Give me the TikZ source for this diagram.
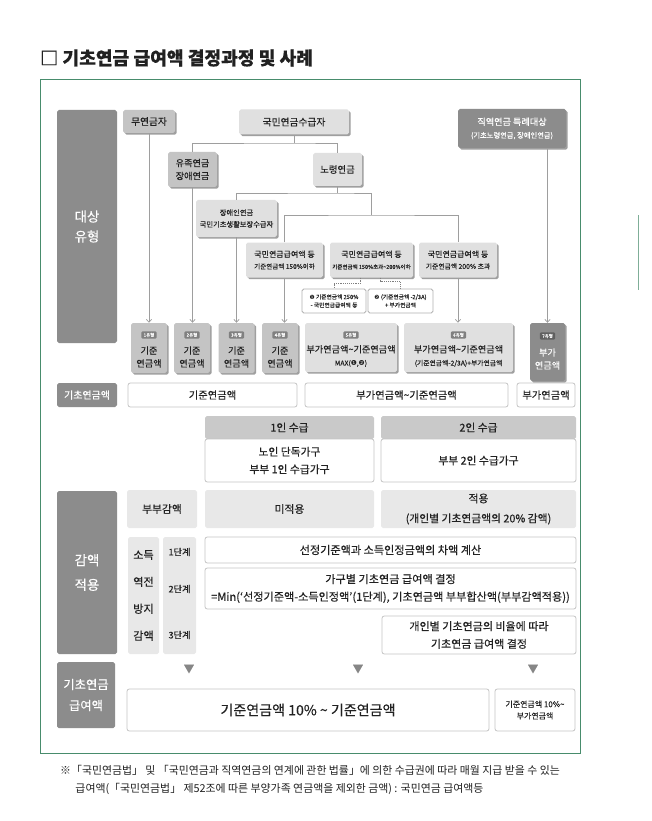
\documentclass[tikz,border=0pt]{standalone}
\usepackage{fontspec}
\setmainfont{Noto Sans CJK KR}[FakeBold=0.3]
\newfontfamily\plainfont{Noto Sans CJK KR}
\newfontfamily\dingfont{DejaVu Sans}
\usetikzlibrary{arrows.meta,calc,shadows}

\definecolor{darkbox}{gray}{0.55}
\definecolor{midbox}{gray}{0.77}
\definecolor{lightbox}{gray}{0.88}
\definecolor{cellbox}{gray}{0.91}
\definecolor{hdrbox}{gray}{0.79}
\definecolor{linegray}{gray}{0.62}
\definecolor{framegreen}{RGB}{72,140,108}
\definecolor{txtgray}{gray}{0.13}

\newcommand{\fsz}[2]{\fontsize{#1}{#2}\selectfont}

\tikzset{
  wh/.style 2 args={minimum width=#1*0.03cm, minimum height=#2*0.03cm, inner sep=0pt},
  labbox/.style={fill=darkbox, text=white, rounded corners=1.5pt, align=center},
  tbox/.style={rounded corners=1.5pt, align=center,
    drop shadow={shadow xshift=1.4pt, shadow yshift=-1.4pt, fill=gray!75, opacity=1}},
  notebox/.style={draw=gray!60, line width=0.7pt, fill=white, rounded corners=1.5pt,
    align=center, font=\fsz{4.9}{7}},
  badge/.style={fill=gray, text=white, rounded corners=1pt, font=\fsz{3.8}{4},
    minimum width=0.46cm, minimum height=0.22cm, inner sep=0pt},
  typetxt/.style={align=center, inner sep=0pt, font=\fsz{7.8}{11}},
  rowbox/.style={draw=gray!45, line width=0.7pt, fill=white, rounded corners=2pt, align=center},
  hdr/.style={fill=hdrbox, rounded corners=1.5pt, align=center, font=\fsz{9.2}{11}},
  cell/.style={fill=cellbox, rounded corners=1.5pt, align=center, font=\fsz{9.2}{17}},
  steptxt/.style={inner sep=0pt, font=\fsz{7.8}{9}},
  tline/.style={draw=linegray, line width=0.6pt},
  arr/.style={tline, ->},
  dotline/.style={draw=gray, line width=0.6pt, densely dotted},
  tri/.style={text=gray!95, inner sep=0pt, font=\fsz{9}{9}}
}

\begin{document}
\begin{tikzpicture}[x=0.03cm, y=-0.03cm, >={Straight Barb[length=2.5pt,width=4.5pt]},
  every node/.append style={text=txtgray}]
  \useasboundingbox[fill=white] (0,0) rectangle (651,821);
  % 제목
  \node[anchor=west, font=\bfseries\fsz{15.5}{17}] (title) at (36,58) {□ 기초연금 급여액 결정과정 및 사례};
  % 테두리
  \draw[framegreen, line width=0.8pt] (40,79) rectangle (580,753);
  \draw[framegreen!70, line width=0.8pt] (638,215) -- (638,290);

  % 왼쪽 구분
  \node[labbox, wh={60}{233}, font=\fsz{11.5}{17}] (lbtype) at (87,226.5) {대상\\유형};
  \node[labbox, wh={60}{24}, font=\fsz{8.5}{10}] (lbbase) at (87,395) {기초연금액};
  \node[labbox, wh={60}{163}, font=\fsz{11.5}{21}] (lbcut) at (87,572.5) {감액\\적용};
  \node[labbox, wh={58}{66}, font=\fsz{10.5}{18}] (lbpay) at (86,695) {기초연금\\급여액};

  % 대상 유형 트리
  \node[tbox, fill=midbox, wh={52}{23}, font=\fsz{8.3}{9}] (mu) at (149,121.5) {무연금자};
  \node[tbox, fill=lightbox, wh={110}{25}, font=\fsz{8.3}{9}] (kuk) at (294,122) {국민연금수급자};
  \node[tbox, fill=darkbox, wh={108}{39}, font=\fsz{7.8}{11}, text=white] (jik) at (512,128.5)
    {직역연금 특례대상\\{\fsz{6.2}{8}(기초노령연금, 장애인연금)}};
  \node[tbox, fill=midbox, wh={49}{35}, font=\fsz{7.8}{11}] (yu) at (192.5,169.5) {유족연금\\장애연금};
  \node[tbox, fill=lightbox, wh={49}{33}, font=\fsz{8}{9}] (old) at (337.5,169.5) {노령연금};
  \node[tbox, fill=lightbox, wh={81}{37}, font=\fsz{6.2}{10}] (dis) at (236.5,218.5) {장애인연금\\국민기초생활보장수급자};
  \node[tbox, fill=lightbox, wh={77}{35}, font=\fsz{6.8}{10}] (c150) at (284.5,260)
    {국민연금급여액 등\\{\fsz{5.6}{7}기준연금액 150\%이하}};
  \node[tbox, fill=lightbox, wh={83}{35}, font=\fsz{6.8}{10}] (c200) at (371.5,260)
    {국민연금급여액 등\\{\fsz{4.7}{6}기준연금액 150\%초과\textasciitilde{}200\%이하}};
  \node[tbox, fill=lightbox, wh={78}{35}, font=\fsz{6.8}{10}] (c300) at (458,260)
    {국민연금급여액 등\\{\fsz{5.8}{7}기준연금액 200\% 초과}};
  \node[notebox, wh={64}{24}] (opt1) at (334,301) {{\dingfont ❶} 기준연금액 250\%\\- 국민연금급여액 등};
  \node[notebox, wh={65}{24}] (opt2) at (400.5,301) {{\dingfont ❷} (기준연금액 -2/3A)\\+ 부가연금액};

  \coordinate (k1) at (294,143);
  \coordinate (k2) at (337.5,193);
  \coordinate (k3) at (371.5,215);
  \draw[tline] (kuk.south) -- (k1);
  \draw[tline] (yu.north) |- (k1) -| (old.north);
  \draw[tline] (old.south) -- (k2);
  \draw[tline] (dis.north) |- (k2) -| (k3);
  \draw[tline] (c150.north) |- (k3) -| (c300.north);
  \draw[dotline] ($(c200.south)+(-11,0)$) -- ++(0,6) -| (opt1.north);
  \draw[dotline] ($(c200.south)+(9,0)$) -- ++(0,4) -| (opt2.north);

  % 유형 1~7
  \foreach \n/\x in {1/149,2/192,3/236.5,4/280}{
    \node[tbox, fill=midbox, wh={36}{50}] (t\n) at (\x,348) {};
    \node[badge] (bd\n) at (\x,335) {\n{}유형};
    \node[typetxt] (tx\n) at (\x,357) {기준\\연금액};
  }
  \node[tbox, fill=lightbox, wh={92}{49}] (t5) at (351,347.5) {};
  \node[badge] (bd5) at (351,335) {5유형};
  \node[typetxt] (tx5) at (351,356) {부가연금액\textasciitilde{}기준연금액\\{\fsz{5.8}{7}MAX({\dingfont ❶},{\dingfont ❷})}};
  \node[tbox, fill=lightbox, wh={109}{49}] (t6) at (458.5,347.5) {};
  \node[badge] (bd6) at (458.5,335) {6유형};
  \node[typetxt] (tx6) at (458.5,356) {부가연금액\textasciitilde{}기준연금액\\{\fsz{5.8}{7}(기준연금액-2/3A)+부가연금액}};
  \node[tbox, fill=darkbox, wh={35}{58}] (t7) at (547.5,352) {};
  \node[badge, fill=gray!75!black] (bd7) at (547.5,336) {7유형};
  \node[typetxt, text=white] (tx7) at (547.5,359) {부가\\연금액};

  \draw[arr] (mu.south) -- (mu.south |- t1.north);
  \draw[arr] (yu.south) -- (yu.south |- t2.north);
  \draw[arr] (dis.south) -- (dis.south |- t3.north);
  \draw[arr] (c150.south) -- (c150.south |- t4.north);
  \draw[arr] (c300.south) -- (c300.south |- t6.north);
  \draw[arr] (t7.north |- jik.south) -- (t7.north);

  % 기초연금액
  \node[rowbox, wh={169}{24}, font=\fsz{8.8}{10}] (amt1) at (212.5,395) {기준연금액};
  \node[rowbox, wh={203}{24}, font=\fsz{8.8}{10}] (amt2) at (406.5,395) {부가연금액\textasciitilde{}기준연금액};
  \node[rowbox, wh={58}{24}, font=\fsz{8.8}{10}] (amt3) at (546,395) {부가연금액};

  % 1인 / 2인 수급
  \node[hdr, wh={169}{23}] (one) at (289.5,427.5) {1인 수급};
  \node[rowbox, wh={169}{43}, font=\fsz{9.2}{15}] (onebody) at (289.5,460.5) {노인 단독가구\\부부 1인 수급가구};
  \node[hdr, wh={195}{23}] (two) at (478.5,427.5) {2인 수급};
  \node[rowbox, wh={195}{43}, font=\fsz{9.2}{15}] (twobody) at (478.5,460.5) {부부 2인 수급가구};

  % 감액 적용
  \node[cell, wh={70}{38}] (cpl) at (162,509) {부부감액};
  \node[cell, wh={169}{38}] (cpl1) at (289.5,509) {미적용};
  \node[cell, wh={195}{38}] (cpl2) at (478.5,509) {적용\\(개인별 기초연금액의 20\% 감액)};
  \node[cell, wh={31}{117}, font=\fsz{9.5}{23}] (inc) at (143.5,595.5) {소득\\역전\\방지\\감액};
  \node[cell, wh={33}{117}] (stp) at (179.5,595.5) {};
  \node[steptxt] (st1) at (179.5,552) {1단계};
  \node[steptxt] (st2) at (179.5,589) {2단계};
  \node[steptxt] (st3) at (179.5,635) {3단계};
  \node[rowbox, wh={371}{26}, font=\fsz{9.5}{11}] (p1) at (390.5,550) {선정기준액과 소득인정금액의 차액 계산};
  \node[rowbox, wh={371}{41}, font=\fsz{9.5}{15}] (p2) at (390.5,588.5)
    {가구별 기초연금 급여액 결정\\=Min(‘선정기준액-소득인정액’(1단계), 기초연금액 부부합산액(부부감액적용))};
  \node[rowbox, wh={194}{38}, font=\fsz{9.4}{15}] (p3) at (479,635) {개인별 기초연금의 비율에 따라\\기초연금 급여액 결정};

  % 기초연금 급여액
  \node[tri] (v1) at (189,669) {▼};
  \node[tri] (v2) at (358,669) {▼};
  \node[tri] (v3) at (533,669) {▼};
  \node[rowbox, wh={362}{42}, font=\fsz{12}{13}] (pay1) at (308,710) {기준연금액 10\% \textasciitilde{} 기준연금액};
  \node[rowbox, wh={80}{42}, font=\fsz{6.8}{10}] (pay2) at (535,710) {기준연금액 10\%\textasciitilde{}\\부가연금액};

  % 주석
  \node[anchor=north west, align=left, inner sep=0pt, font=\plainfont\fsz{9.3}{15}] (foot) at (60,765)
    {※「국민연금법」 및 「국민연금과 직역연금의 연계에 관한 법률」에 의한 수급권에 따라 매월 지급 받을 수 있는\\\hspace*{1.4em}급여액(「국민연금법」 제52조에 따른 부양가족 연금액을 제외한 금액) : 국민연금 급여액등};
\end{tikzpicture}
\end{document}
